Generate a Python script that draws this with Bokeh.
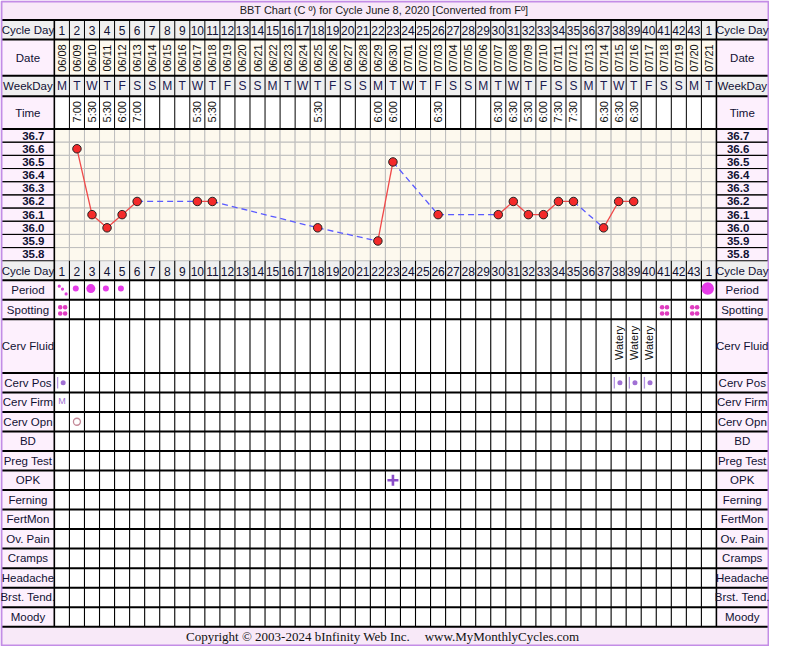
import numpy as np
from bokeh.plotting import figure
from bokeh.models import Range1d
from bokeh.core.properties import value
from bokeh.embed import file_html
from bokeh.resources import INLINE

# ---------------- data ----------------
title_text = "BBT Chart (C º) for Cycle June 8, 2020  [Converted from Fº]"
footer_left = "Copyright © 2003-2024 bInfinity Web Inc."
footer_right = "www.MyMonthlyCycles.com"

cycle_days = list(range(1, 45))
cycle_day_labels = ["1", "2", "3", "4", "5", "6", "7", "8", "9", "10", "11", "12", "13", "14", "15",
                    "16", "17", "18", "19", "20", "21", "22", "23", "24", "25", "26", "27", "28", "29",
                    "30", "31", "32", "33", "34", "35", "36", "37", "38", "39", "40", "41", "42", "43", "1"]
dates = ["06/08", "06/09", "06/10", "06/11", "06/12", "06/13", "06/14", "06/15", "06/16", "06/17",
         "06/18", "06/19", "06/20", "06/21", "06/22", "06/23", "06/24", "06/25", "06/26", "06/27",
         "06/28", "06/29", "06/30", "07/01", "07/02", "07/03", "07/04", "07/05", "07/06", "07/07",
         "07/08", "07/09", "07/10", "07/11", "07/12", "07/13", "07/14", "07/15", "07/16", "07/17",
         "07/18", "07/19", "07/20", "07/21"]
weekdays = ["M", "T", "W", "T", "F", "S", "S", "M", "T", "W", "T", "F", "S", "S",
            "M", "T", "W", "T", "F", "S", "S", "M", "T", "W", "T", "F", "S", "S",
            "M", "T", "W", "T", "F", "S", "S", "M", "T", "W", "T", "F", "S", "S", "M", "T"]

temp_days = [2, 3, 4, 5, 6, 10, 11, 18, 22, 23, 26, 30, 31, 32, 33, 34, 35, 37, 38, 39]
temp_values = [36.6, 36.1, 36.0, 36.1, 36.2, 36.2, 36.2, 36.0, 35.9, 36.5,
               36.1, 36.1, 36.2, 36.1, 36.1, 36.2, 36.2, 36.0, 36.2, 36.2]
time_labels = ["7:00", "5:30", "5:30", "6:00", "7:00", "5:30", "5:30", "5:30", "6:00", "6:00",
               "6:30", "6:30", "6:30", "5:30", "6:00", "7:30", "7:30", "6:30", "6:30", "6:30"]

temp_ticks = [36.7, 36.6, 36.5, 36.4, 36.3, 36.2, 36.1, 36.0, 35.9, 35.8]
temp_tick_labels = ["36.7", "36.6", "36.5", "36.4", "36.3", "36.2", "36.1", "36.0", "35.9", "35.8"]

symptom_rows = ["Period", "Spotting", "Cerv Fluid", "Cerv Pos", "Cerv Firm", "Cerv Opn", "BD",
                "Preg Test", "OPK", "Ferning", "FertMon", "Ov. Pain", "Cramps", "Headache",
                "Brst. Tend.", "Moody"]

period_days = [2, 3, 4, 5, 44]
period_flow = ["light", "medium", "light", "light", "heavy"]
period_very_light_days = [1]
spotting_days = [1, 41, 43]
cerv_fluid_days = [38, 39, 40]
cerv_fluid = ["Watery", "Watery", "Watery"]
cerv_pos_days = [1, 38, 39, 40]
cerv_firm_days = [1]
cerv_firm = ["M"]
cerv_opn_days = [2]
opk_days = [23]

# ---------------- layout (reference pixel geometry) ----------------
W_PX = 15.36          # width of one day column
X0_PX = 55.0          # left edge of day 1


def px_x(px):
    return 0.5 + (px - X0_PX) / W_PX


def dx(px):
    return px / W_PX


XL, XR = px_x(0), px_x(785)
LBL_L, LBL_R = px_x(1), 0.5
RBL_L, RBL_R = 44.5, px_x(783.5)
LBL_C = (LBL_L + LBL_R) / 2
RBL_C = (RBL_L + RBL_R) / 2

TITLE_B = 20
header_rows = [("Cycle Day", 20, 40, "#efefef", "#efefef"),
               ("Date", 40, 77, "#fdf0fd", "#fdf9ee"),
               ("WeekDay", 77, 98, "#efefef", "#efefef"),
               ("Time", 98, 131.7, "#fdf0fd", "#ffffff")]
TEMP_T = 131.7
TEMP_ROW = 13.5
TEMP_B = TEMP_T + TEMP_ROW * len(temp_ticks)
CD2_T, CD2_B = TEMP_B, TEMP_B + 20
sym_heights = [20, 20, 55] + [20] * 13
sym_edges = [CD2_B]
for h in sym_heights:
    sym_edges.append(sym_edges[-1] + h)
FOOT_T = sym_edges[-1]
sym_center = {name: (sym_edges[i] + sym_edges[i + 1]) / 2 for i, name in enumerate(symptom_rows)}

t_center_top = TEMP_T + TEMP_ROW / 2
t_scale = TEMP_ROW * 10
temp_start = temp_ticks[0] - (662 - t_center_top) / t_scale
temp_end = temp_ticks[0] + t_center_top / t_scale

FONT = value("Liberation Sans")
TXT = "#111133"

p = figure(width=769, height=646, x_range=Range1d(XL, XR), y_range=Range1d(662, 0),
           output_backend="svg", toolbar_location=None, min_border=0,
           x_axis_location=None, y_axis_location=None)
p.grid.visible = False
p.outline_line_color = None
p.background_fill_color = "white"
p.border_fill_color = "white"
p.extra_y_ranges = {"temp": Range1d(temp_start, temp_end)}

# ---------------- backgrounds ----------------
p.quad(left=[XL, XL], right=[XR, XR], top=[0, FOOT_T], bottom=[TITLE_B, 662],
       fill_color="#f8e9f8", line_color=None)

L, R, T, B, C = [], [], [], [], []
for name, top, bot, lab_col, cell_col in header_rows:
    L += [LBL_L, RBL_L]; R += [LBL_R, RBL_R]; T += [top, top]; B += [bot, bot]; C += [lab_col, lab_col]
    for d in cycle_days:
        L.append(d - 0.5); R.append(d + 0.5); T.append(top); B.append(bot); C.append(cell_col)
# second cycle day row
L += [LBL_L, RBL_L, 0.5]; R += [LBL_R, RBL_R, 44.5]; T += [CD2_T] * 3; B += [CD2_B] * 3
C += ["#efefef"] * 3
# symptom rows labels
for i, name in enumerate(symptom_rows):
    L += [LBL_L, RBL_L]; R += [LBL_R, RBL_R]; T += [sym_edges[i]] * 2; B += [sym_edges[i + 1]] * 2
    C += ["#fdf0fd"] * 2
# temp label cells
L += [LBL_L, RBL_L]; R += [LBL_R, RBL_R]; T += [TEMP_T] * 2; B += [TEMP_B] * 2; C += ["#fdf0fd"] * 2
p.quad(left=L, right=R, top=T, bottom=B, fill_color=C, line_color=None)

# temperature grid cells
gx, gy = [], []
for d in cycle_days:
    for t in temp_ticks:
        gx.append(d); gy.append(t)
gx = np.array(gx, float); gy = np.array(gy, float)
p.quad(left=gx - 0.5, right=gx + 0.5, bottom=gy - 0.05, top=gy + 0.05, y_range_name="temp",
       fill_color="#fdf9ee", line_color="#bdbdbd", line_width=1)

# temp label cell borders
tt = np.array(temp_ticks)
for l, r in [(LBL_L, LBL_R), (RBL_L, RBL_R)]:
    p.quad(left=[l] * len(tt), right=[r] * len(tt), bottom=tt - 0.05, top=tt + 0.05,
           y_range_name="temp", fill_color=None, line_color="black", line_width=1)

# ---------------- lines ----------------
# vertical day boundaries in header and symptom areas
vx = [d - 0.5 for d in cycle_days] + [44.5]
p.segment(x0=vx, y0=[TITLE_B] * len(vx), x1=vx, y1=[TEMP_T] * len(vx), line_color="black", line_width=1)
p.segment(x0=vx, y0=[CD2_T] * len(vx), x1=vx, y1=[FOOT_T] * len(vx), line_color="black", line_width=1.1)
p.segment(x0=[0.5, 44.5], y0=[TITLE_B] * 2, x1=[0.5, 44.5], y1=[FOOT_T] * 2, line_color="black", line_width=1.5)

# horizontal thick lines
hy = [TITLE_B] + [r[2] for r in header_rows] + sym_edges
p.segment(x0=[LBL_L] * len(hy), y0=hy, x1=[RBL_R] * len(hy), y1=hy, line_color="black", line_width=2)

# outer border
p.quad(left=[px_x(1)], right=[px_x(784)], top=[1], bottom=[661], fill_color=None,
       line_color="#c38de6", line_width=2)

# ---------------- texts ----------------
p.text(x=[px_x(393)], y=[10], text=[title_text], text_font=FONT, text_font_size=value("11px"),
       text_align="center", text_baseline="middle", text_color="#222222")
p.text(x=[px_x(418)], y=[652], text=[footer_left], text_font=value("Liberation Serif"),
       text_font_size=value("13px"), text_align="right", text_baseline="middle", text_color="#111111")
p.text(x=[px_x(433)], y=[652], text=[footer_right], text_font=value("Liberation Serif"),
       text_font_size=value("13px"), text_align="left", text_baseline="middle", text_color="#111111")

# row labels
lab_names, lab_y = [], []
for name, top, bot, _, _ in header_rows:
    lab_names.append(name); lab_y.append((top + bot) / 2)
lab_names.append("Cycle Day"); lab_y.append((CD2_T + CD2_B) / 2)
for name in symptom_rows:
    lab_names.append(name); lab_y.append(sym_center[name])
p.text(x=[LBL_C] * len(lab_names), y=lab_y, text=lab_names, text_font=FONT,
       text_font_size=value("11.5px"), text_align="center", text_baseline="middle", text_color=TXT)
p.text(x=[RBL_C] * len(lab_names), y=lab_y, text=lab_names, text_font=FONT,
       text_font_size=value("11.5px"), text_align="center", text_baseline="middle", text_color=TXT)

# temperature tick labels
p.text(x=[px_x(33.5)] * len(temp_ticks), y=temp_ticks, text=temp_tick_labels, y_range_name="temp",
       text_font=FONT, text_font_size=value("11.5px"), text_font_style="bold",
       text_align="center", text_baseline="middle", text_color=TXT)
p.text(x=[px_x(753)] * len(temp_ticks), y=temp_ticks, text=temp_tick_labels, y_range_name="temp",
       text_font=FONT, text_font_size=value("11.5px"), text_font_style="bold",
       text_align="center", text_baseline="middle", text_color=TXT)

# cycle day numbers
for top, bot in [(20, 40), (CD2_T, CD2_B)]:
    p.text(x=cycle_days, y=[(top + bot) / 2 + 0.5] * len(cycle_days), text=cycle_day_labels, text_font=FONT,
           text_font_size=value("12px"), text_align="center", text_baseline="middle", text_color=TXT)
# dates
p.text(x=cycle_days, y=[59] * len(cycle_days), text=dates, text_font=FONT, text_font_size=value("11px"),
       text_align="center", text_baseline="middle", angle=np.pi / 2, text_color="#111111")
# weekdays
p.text(x=cycle_days, y=[88] * len(cycle_days), text=weekdays, text_font=FONT, text_font_size=value("12px"),
       text_align="center", text_baseline="middle", text_color="#1a1a50")
# times
p.text(x=temp_days, y=[103] * len(temp_days), text=time_labels, text_font=FONT, text_font_size=value("11px"),
       text_align="right", text_baseline="middle", angle=np.pi / 2, text_color="#111111")

# ---------------- temperature series ----------------
sx0, sy0, sx1, sy1, dx0, dy0, dx1, dy1 = [], [], [], [], [], [], [], []
for i in range(len(temp_days) - 1):
    if temp_days[i + 1] - temp_days[i] == 1:
        sx0.append(temp_days[i]); sy0.append(temp_values[i]); sx1.append(temp_days[i + 1]); sy1.append(temp_values[i + 1])
    else:
        dx0.append(temp_days[i]); dy0.append(temp_values[i]); dx1.append(temp_days[i + 1]); dy1.append(temp_values[i + 1])
p.segment(x0=dx0, y0=dy0, x1=dx1, y1=dy1, y_range_name="temp", line_color="#5a5aff",
          line_width=1.3, line_dash="6 4")
p.segment(x0=sx0, y0=sy0, x1=sx1, y1=sy1, y_range_name="temp", line_color="#f04848", line_width=1.3)
p.scatter(x=temp_days, y=temp_values, y_range_name="temp", size=8.5, fill_color="#f42a2a",
          line_color="#222222", line_width=1)

# ---------------- symptom markers ----------------
flow_size = {"light": 6, "medium": 9, "heavy": 12.5}
py = sym_center["Period"]
p.scatter(x=[d + dx(-1.2) for d in period_days], y=[py - 1.5] * len(period_days),
          size=[flow_size[f] for f in period_flow], fill_color="#e53be8", line_color=None)
vl_x, vl_y = [], []
for d in period_very_light_days:
    for ox, oy in [(-2.7, -4), (0.6, -1), (4.3, 4)]:
        vl_x.append(d + dx(ox)); vl_y.append(py + oy)
p.scatter(x=vl_x, y=vl_y, size=3.2, fill_color="#e040d8", line_color=None)

sp_y = sym_center["Spotting"]
spx, spy = [], []
for d in spotting_days:
    for ox in (-2.5, 2.5):
        for oy in (-3.2, 3.2):
            spx.append(d + dx(ox + 0.8)); spy.append(sp_y + oy + 0.8)
p.scatter(x=spx, y=spy, size=4.6, fill_color="#e03cc0", line_color=None)

p.text(x=cerv_fluid_days, y=[sym_edges[2] + 6.5] * len(cerv_fluid_days), text=cerv_fluid, text_font=FONT,
       text_font_size=value("11px"), text_align="right", text_baseline="middle", angle=np.pi / 2,
       text_color="#111111")

cp_y = sym_center["Cerv Pos"]
p.segment(x0=[d + dx(-4.4) for d in cerv_pos_days], y0=[cp_y - 6] * len(cerv_pos_days),
          x1=[d + dx(-4.4) for d in cerv_pos_days], y1=[cp_y + 6] * len(cerv_pos_days),
          line_color="#b597e3", line_width=1.3)
p.scatter(x=[d + dx(1.3) for d in cerv_pos_days], y=[cp_y] * len(cerv_pos_days), size=5,
          fill_color="#a070d4", line_color=None)

p.text(x=cerv_firm_days, y=[sym_center["Cerv Firm"] - 1] * len(cerv_firm_days), text=cerv_firm, text_font=FONT,
       text_font_size=value("9px"), text_align="center", text_baseline="middle", text_color="#a070d4")

p.scatter(x=cerv_opn_days, y=[sym_center["Cerv Opn"]] * len(cerv_opn_days), size=7, fill_color=None,
          line_color="#c48a98", line_width=1.3)

p.scatter(x=opk_days, y=[sym_center["OPK"]] * len(opk_days), marker="cross", size=11,
          line_color="#8a4cc8", line_width=2.6)

open("out.html", "w").write(file_html(p, INLINE))
